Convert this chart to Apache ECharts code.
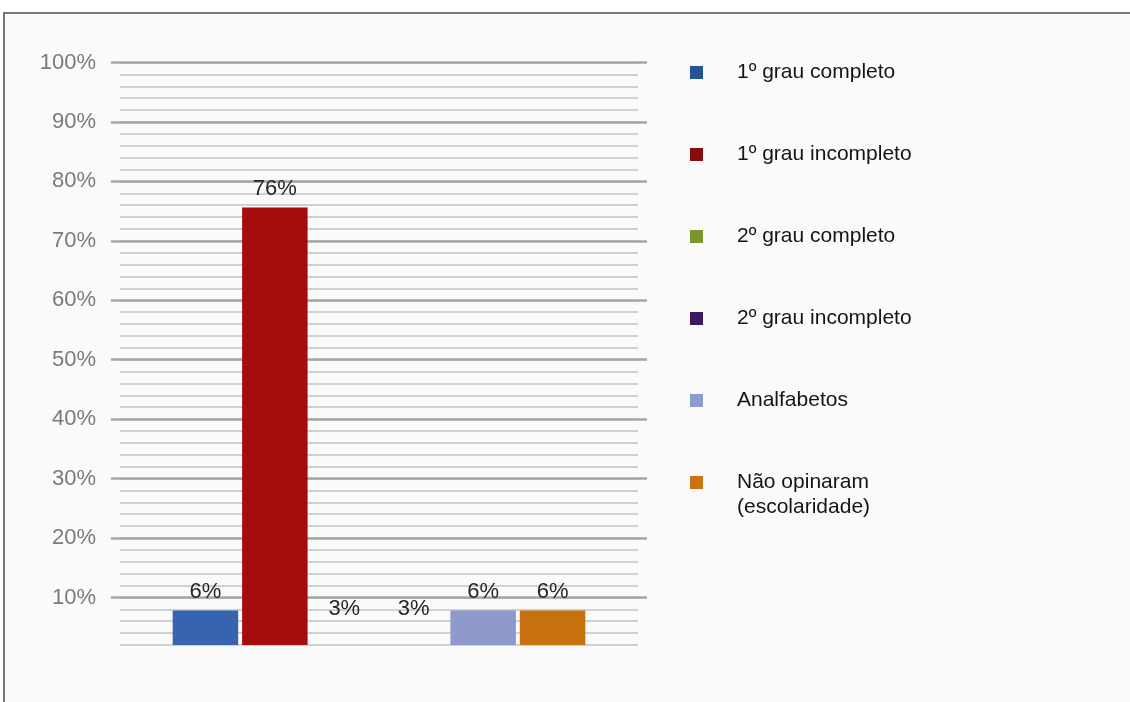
<!DOCTYPE html>
<html>
<head>
<meta charset="utf-8">
<title>Escolaridade</title>
<script src="https://cdn.jsdelivr.net/npm/echarts@6/dist/echarts.min.js"></script>
<style>
  html, body { margin: 0; padding: 0; background: #fff; overflow: hidden; }
  .frame {
    position: absolute; left: 3px; top: 12px; width: 1140px; height: 700px;
    border-top: 2px solid #767676; border-left: 2px solid #767676; background: #fafafa;
  }
  #chart { position: absolute; left: 0; top: 0; width: 1130px; height: 702px; }
</style>
</head>
<body>
<div class="frame"></div>
<div id="chart"></div>
<script>
// data
const categories = ["Escolaridade"];
const seriesNames = [
  "1º grau completo",
  "1º grau incompleto",
  "2º grau completo",
  "2º grau incompleto",
  "Analfabetos",
  "Não opinaram (escolaridade)",
];
const seriesValues = [6, 76, 3, 3, 6, 6];
const yTickLabels = [10, 20, 30, 40, 50, 60, 70, 80, 90, 100];

// styles
const barColors = ["#3763b0", "#a60d0d", "rgba(0,0,0,0)", "rgba(0,0,0,0)", "#8e9acb", "#c6700f"];
const legendColors = ["#245494", "#8a0b0b", "#7a962a", "#3d1a5f", "#8c9dcd", "#c87416"];
const FONT = "'Liberation Sans', Arial, sans-serif";

const chart = echarts.init(document.getElementById("chart"));

const legendText = {
  fontFamily: FONT,
  fontSize: 21,
  color: "#141414",
  lineHeight: 21,
  padding: [0, 0, 0, 29],
};

const option = {
  animation: false,
  backgroundColor: "transparent",
  legend: [
    {
      orient: "vertical",
      left: 690,
      top: 62,
      padding: 0,
      icon: "rect",
      itemWidth: 13,
      itemHeight: 13,
      itemGap: 61,
      selectedMode: false,
      textStyle: legendText,
      data: seriesNames.slice(0, 5).map((n, i) => ({
        name: n,
        itemStyle: { color: legendColors[i] },
      })),
    },
    {
      // blank first line keeps "Não opinaram" level with the icon
      orient: "vertical",
      left: 690,
      top: 445,
      padding: 0,
      icon: "rect",
      itemWidth: 13,
      itemHeight: 13,
      selectedMode: false,
      formatter: () => " \nNão opinaram\n(escolaridade)",
      textStyle: { ...legendText, lineHeight: 25 },
      data: [{ name: seriesNames[5], itemStyle: { color: legendColors[5] } }],
    },
  ],
  grid: [
    { left: 120, width: 518, top: 62.5, height: 582.5 },
    { left: 111, width: 536, top: 62.5, height: 582.5 },
  ],
  xAxis: [
    { gridIndex: 0, type: "category", data: categories, show: false },
    { gridIndex: 1, type: "category", data: categories, show: false },
  ],
  yAxis: [
    {
      // minor lines
      gridIndex: 0,
      type: "value",
      min: 2,
      max: 100,
      interval: 2,
      axisLabel: { show: false },
      axisLine: { show: false },
      axisTick: { show: false },
      splitLine: { show: true, lineStyle: { color: "#c2c2c2", width: 1.5 } },
    },
    {
      // bar scale
      gridIndex: 0,
      type: "value",
      min: 0,
      max: 101.2,
      show: false,
    },
    {
      // major lines + labels
      gridIndex: 1,
      type: "value",
      min: 2,
      max: 100,
      interval: 2,
      z: 1,
      axisLine: { show: false },
      axisTick: { show: false },
      axisLabel: {
        margin: 15,
        fontFamily: FONT,
        fontSize: 22,
        color: "#7a7a7a",
        formatter: (v) => (yTickLabels.includes(v) ? v + "%" : ""),
      },
      splitLine: {
        show: true,
        lineStyle: {
          width: 2.5,
          color: ["rgba(0,0,0,0)", "rgba(0,0,0,0)", "rgba(0,0,0,0)", "rgba(0,0,0,0)", "#a6a6a6"],
        },
      },
    },
  ],
  series: seriesNames.map((name, i) => ({
    name,
    type: "bar",
    xAxisIndex: 0,
    yAxisIndex: 1,
    data: [seriesValues[i]],
    barWidth: 65.5,
    barGap: "6%",
    itemStyle: { color: barColors[i] },
    label: {
      show: true,
      position: "top",
      distance: 8,
      formatter: "{c}%",
      fontFamily: FONT,
      fontSize: 22,
      color: "#262626",
    },
  })),
};

chart.setOption(option);
</script>
</body>
</html>
